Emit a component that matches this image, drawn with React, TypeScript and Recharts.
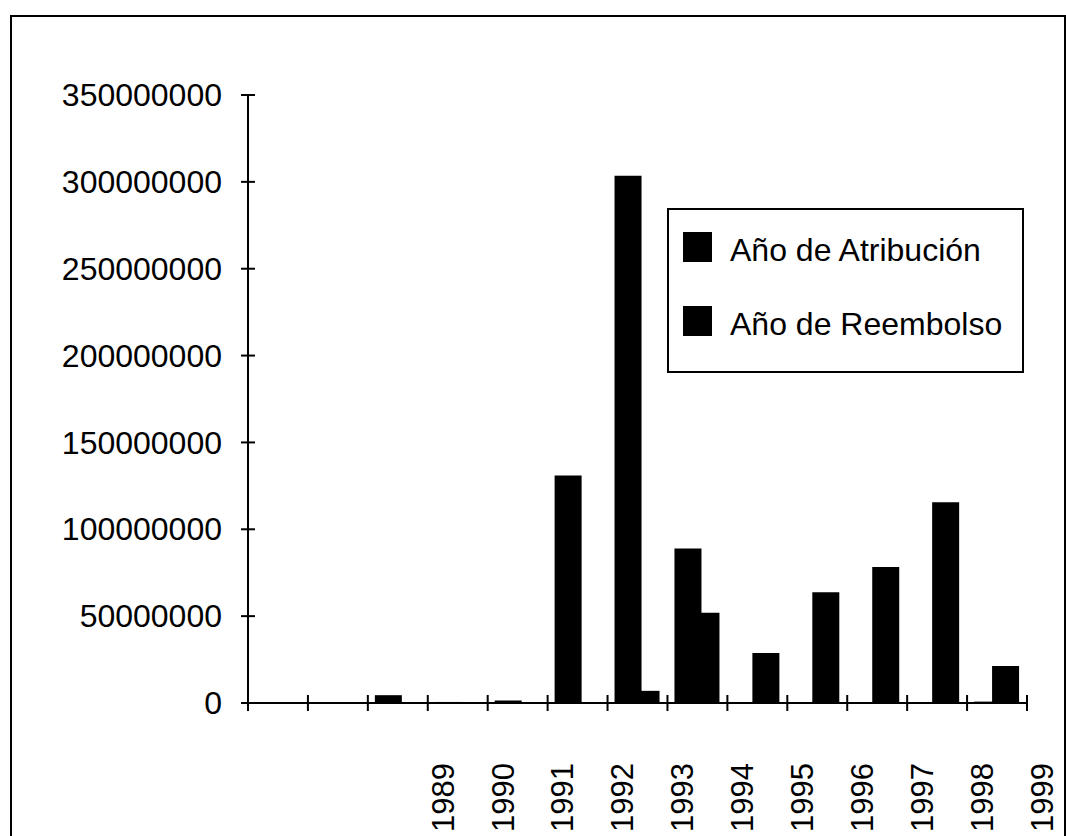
import React from 'react';
import { BarChart, Bar, XAxis, YAxis, Legend } from 'recharts';

// --- DATA ---
// 13 slots on the x axis; the year labels sit on the right edge of each slot
const yearLabels = ['', '', '1989', '1990', '1991', '1992', '1993', '1994', '1995', '1996', '1997', '1998', '1999'];
const atribucion = [0, 500000, 4500000, 600000, 1500000, 131000000, 303500000, 89000000, 0, 500000, 0, 0, 800000];
const reembolso = [0, 500000, 0, 0, 500000, 500000, 7000000, 52000000, 28800000, 63800000, 78300000, 115500000, 21300000];
const yTicks = [0, 50000000, 100000000, 150000000, 200000000, 250000000, 300000000, 350000000];

const seriesNames = ['Año de Atribución', 'Año de Reembolso'];

// --- LAYOUT ---
const W = 1066;
const H = 836;
const LEFT = 248;
const RIGHT = 39;
const TOP = 95;
const BOTTOM = 133;
const BAND = (W - LEFT - RIGHT) / yearLabels.length;
const FONT = '"Liberation Sans", Arial, Helvetica, sans-serif';

const data = yearLabels.map((label, i) => ({
  label,
  atribucion: atribucion[i],
  reembolso: reembolso[i],
}));

const YTick = (props: any) => {
  const { x, y, payload } = props;
  return (
    <g>
      <line x1={x - 7} x2={x + 7} y1={y} y2={y} stroke="#000" strokeWidth={2} />
      <text x={x - 26} y={y} dy="0.35em" textAnchor="end" fontSize={32} fontFamily={FONT} fill="#000">
        {String(payload.value)}
      </text>
    </g>
  );
};

const XTick = (props: any) => {
  const { x, y, payload, index } = props;
  const edge = x + BAND / 2;
  return (
    <g>
      {index === 0 && (
        <line x1={x - BAND / 2} x2={x - BAND / 2} y1={y - 8} y2={y + 8} stroke="#000" strokeWidth={2} />
      )}
      <line x1={edge} x2={edge} y1={y - 8} y2={y + 8} stroke="#000" strokeWidth={2} />
      {payload.value && (
        <text
          transform={`translate(${edge + 15}, 763) rotate(-90)`}
          dy="0.35em"
          textAnchor="end"
          fontSize={31}
          fontFamily={FONT}
          fill="#000"
        >
          {payload.value}
        </text>
      )}
    </g>
  );
};

const LegendBox = () => (
  <svg width={358} height={166} style={{ display: 'block' }}>
    <rect x={1} y={1} width={355} height={163} fill="#fff" stroke="#000" strokeWidth={2} />
    {seriesNames.map((name, i) => (
      <g key={name}>
        <rect x={16} y={24 + i * 74} width={29} height={30} fill="#000" />
        <text x={63} y={53 + i * 74} fontSize={32} fontFamily={FONT} fill="#000">
          {name}
        </text>
      </g>
    ))}
  </svg>
);

const App: React.FC = () => {
  return (
    <div style={{ position: 'absolute', left: 0, top: 0, width: W, height: H, overflow: 'hidden', background: '#fff' }}>
      <div
        style={{
          position: 'absolute',
          left: 10,
          top: 15,
          width: 1052,
          height: 900,
          borderLeft: '2px solid #000',
          borderTop: '2px solid #000',
          borderRight: '2px solid #000',
        }}
      />
      <div style={{ position: 'absolute', left: 0, top: 0 }}>
        <BarChart
          width={W}
          height={H}
          data={data}
          margin={{ top: TOP, right: RIGHT, left: 0, bottom: 0 }}
          barGap={-9}
          barSize={27}
        >
          <XAxis
            dataKey="label"
            height={BOTTOM}
            interval={0}
            tickSize={0}
            tickMargin={0}
            tickLine={false}
            axisLine={{ stroke: '#000', strokeWidth: 2 }}
            tick={<XTick />}
          />
          <YAxis
            width={LEFT}
            domain={[0, 350000000]}
            ticks={yTicks}
            interval={0}
            tickSize={0}
            tickMargin={0}
            tickLine={false}
            axisLine={{ stroke: '#000', strokeWidth: 2 }}
            tick={<YTick />}
          />
          {/* centre + middle keeps the legend out of the plot offset */}
          <Legend
            layout="horizontal"
            verticalAlign="middle"
            align="center"
            content={<LegendBox />}
            wrapperStyle={{ position: 'absolute', left: 667, top: 208, width: 358, height: 166 }}
          />
          <Bar dataKey="atribucion" name={seriesNames[0]} fill="#000" isAnimationActive={false} />
          <Bar dataKey="reembolso" name={seriesNames[1]} fill="#000" isAnimationActive={false} />
        </BarChart>
      </div>
    </div>
  );
};

export default App;
